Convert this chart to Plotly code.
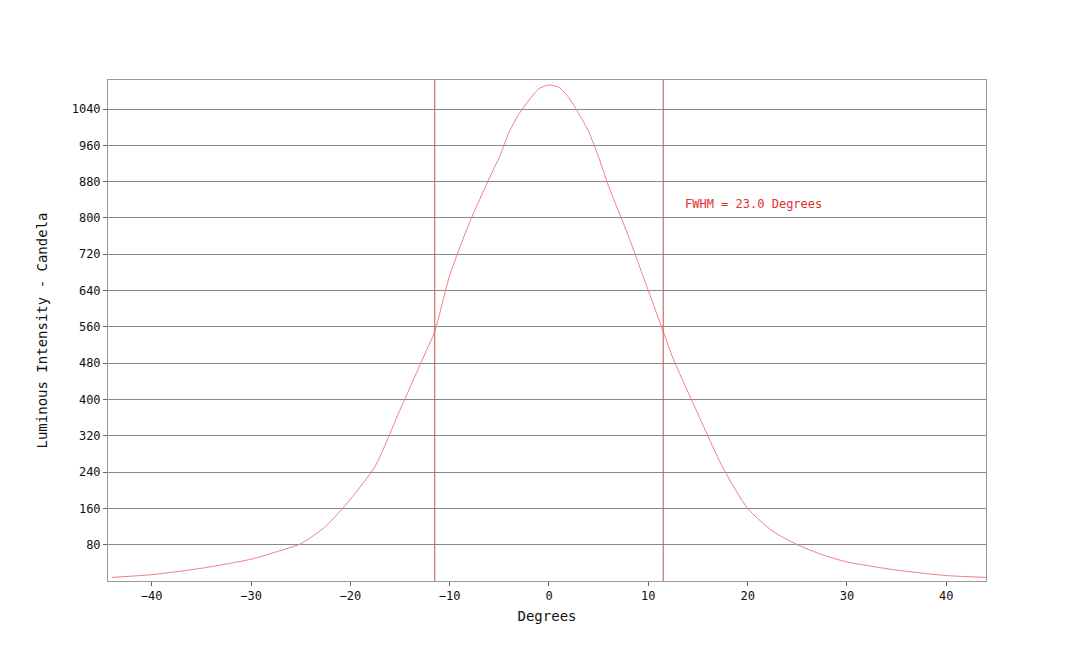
import plotly.graph_objects as go

# beam profile
degrees = [-44, -40, -35, -30, -27.5, -25, -22.5, -20, -17.5, -15, -12.5, -11.5, -10, -8, -6, -5, -4,
           -3, -2, -1, 0, 1, 2, 3, 4, 5, 6, 8, 10, 11.5, 12.5, 15, 17.5, 20, 22.5, 25, 27.5,
           30, 35, 40, 44]
intensity = [8, 14, 28, 48, 64, 82, 120, 180, 253, 377, 500, 550, 673, 790, 888, 934, 990,
             1030, 1060, 1085, 1093, 1088, 1065, 1030, 990, 934, 870, 760, 640, 550, 490, 368, 250, 160, 110, 80, 58,
             42, 24, 12, 8]
fwhm_lines = [-11.5, 11.5]
y_ticks = list(range(80, 1041, 80))
x_ticks = list(range(-40, 41, 10))

RED = "#e03030"
font = "DejaVu Sans Mono"

fig = go.Figure()
fig.add_trace(go.Scatter(x=degrees, y=intensity, mode="lines",
                         line=dict(color="#f08080", width=1, shape="spline", smoothing=0.6)))
fig.add_annotation(x=13.5, y=830, text="FWHM = 23.0 Degrees", showarrow=False, xanchor="left",
                   font=dict(family=font, size=12, color=RED))

fig.update_layout(
    width=1080, height=646, showlegend=False,
    paper_bgcolor="white", plot_bgcolor="white",
    margin=dict(l=100, r=102, t=72, b=73),
    font=dict(family=font, size=12, color="#111"),
    xaxis=dict(range=[-44.4, 44], tickvals=x_ticks, showgrid=False, zeroline=False, showline=True,
               linecolor="#999", mirror=True, ticks="outside", ticklen=4, tickcolor="#666",
               title=dict(text="Degrees", standoff=8)),
    yaxis=dict(range=[0, 1104], tickvals=y_ticks, showgrid=True, gridcolor="#888", gridwidth=1, zeroline=False,
               showline=True, linecolor="#999", mirror=True, ticks="outside", ticklen=4, tickcolor="#666",
               title=dict(text="Luminous Intensity - Candela", standoff=20)),
)
for v in fwhm_lines:
    fig.add_vline(x=v, line=dict(color="#c85050", width=1))
fig.write_html("out.html")
